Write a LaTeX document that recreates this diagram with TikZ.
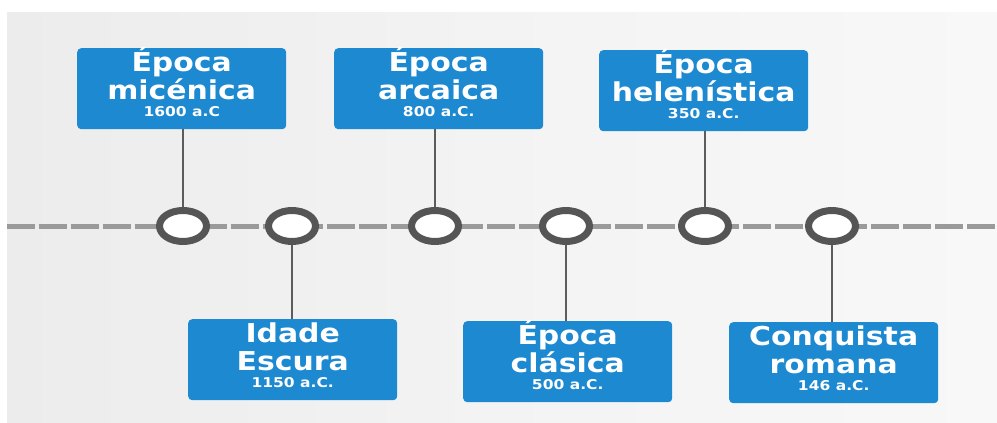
\documentclass[tikz,border=0pt]{standalone}
\usepackage{fontspec}
\setmainfont{DejaVu Sans}[FakeStretch=1.15]
\usetikzlibrary{shapes.geometric,calc}
\definecolor{boxblue}{HTML}{1D89D1}
\definecolor{ringgray}{HTML}{555555}
\definecolor{linegray}{HTML}{5C5C5C}
\definecolor{dashgray}{HTML}{9A9A9A}
\definecolor{bgleft}{HTML}{ECECEC}
\definecolor{bgright}{HTML}{F8F8F8}
\tikzset{
  evbox/.style={fill=boxblue, rounded corners=4pt, minimum width=209pt, minimum height=81pt, inner sep=0pt, anchor=north west},
  ttl/.style={text=white, font=\bfseries\fontsize{26}{28}\selectfont, anchor=base, inner sep=0pt},
  datetxt/.style={text=white, font=\bfseries\fontsize{13.5}{15}\selectfont, anchor=base, inner sep=0pt},
  ring/.style={ellipse, draw=ringgray, line width=7pt, fill=white, minimum width=47pt, minimum height=31pt, inner sep=0pt},
  conn/.style={draw=linegray, line width=2.4pt},
  axis/.style={draw=dashgray, line width=5pt, dash pattern=on 28pt off 4pt}
}
\newcommand\evnt[6]{%
  \node[evbox] (#1) at (#2,#3) {};
  \node[ttl] (#1a) at ([yshift=-23.5pt]#1.north) {#4};
  \node[ttl] (#1b) at ([yshift=-51pt]#1.north) {#5};
  \node[datetxt] (#1c) at ([yshift=-68.5pt]#1.north) {#6};
}
\begin{document}
\begin{tikzpicture}[x=1pt,y=-1pt]
\useasboundingbox (0,0) rectangle (997,423);
\fill[white] (0,0) rectangle (997,423);
\shade[left color=bgleft, right color=bgright, middle color=bgright!60!bgleft] (7,12) rectangle (997,423);
% axis
\coordinate (axL) at (7,226);
\coordinate (axR) at (997,226);
\draw[axis] (axL) -- (axR);
% boxes
\evnt{b1}{77}{48}{Época}{micénica}{1600 a.C}
\evnt{b3}{334}{48}{Época}{arcaica}{800 a.C.}
\evnt{b5}{599}{50}{Época}{helenística}{350 a.C.}
\evnt{b2}{188}{319}{Idade}{Escura}{1150 a.C.}
\evnt{b4}{463}{321}{Época}{clásica}{500 a.C.}
\evnt{b6}{729}{322}{Conquista}{romana}{146 a.C.}
% circle positions
\coordinate (p1) at (183,226);
\coordinate (p2) at (292,226);
\coordinate (p3) at (435,226);
\coordinate (p4) at (566,226);
\coordinate (p5) at (705,226);
\coordinate (p6) at (832,226);
% connectors
\draw[conn] (p1) -- (p1 |- b1.south);
\draw[conn] (p3) -- (p3 |- b3.south);
\draw[conn] (p5) -- (p5 |- b5.south);
\draw[conn] (p2) -- (p2 |- b2.north);
\draw[conn] (p4) -- (p4 |- b4.north);
\draw[conn] (p6) -- (p6 |- b6.north);
% rings
\foreach \i in {1,...,6} { \node[ring] (c\i) at (p\i) {}; }
\end{tikzpicture}
\end{document}
